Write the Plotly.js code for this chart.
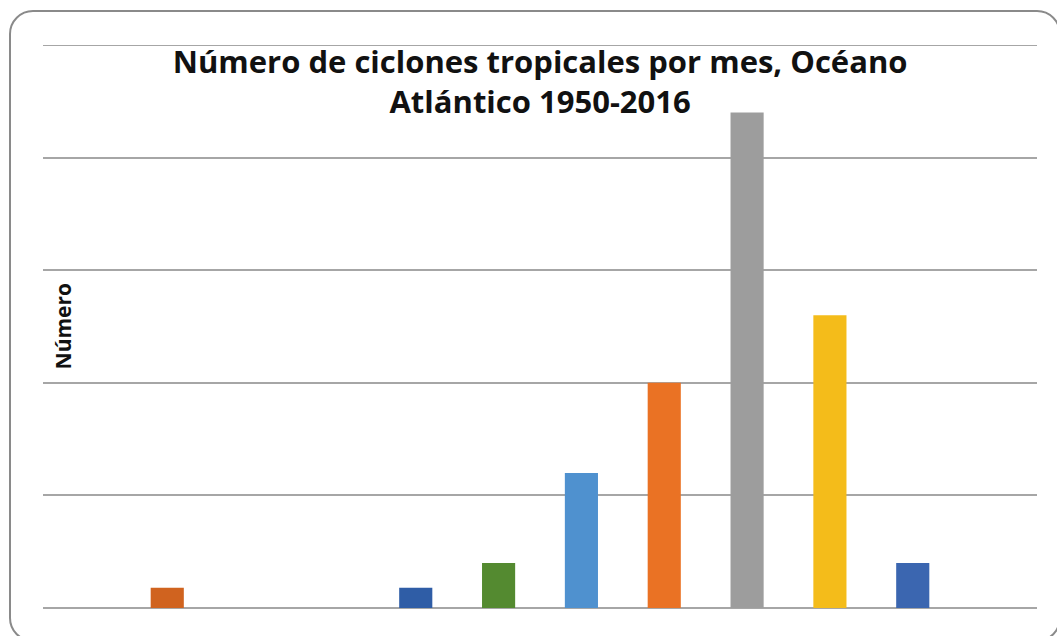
<!DOCTYPE html>
<html>
<head>
<meta charset="utf-8">
<script src="https://cdn.plot.ly/plotly-3.0.1.min.js"></script>
<style>
  html, body { margin: 0; padding: 0; background: #ffffff; }
  #frame { position: absolute; left: 9px; top: 10px; width: 1052px; height: 632px;
           border: 2px solid #8a8a8a; border-radius: 24px; box-sizing: border-box; }
  #chart { position: absolute; left: 0; top: 0; width: 1057px; height: 636px; }
</style>
</head>
<body>
<div id="frame"></div>
<div id="chart"></div>
<script>
const months = ['Ene', 'Feb', 'Mar', 'Abr', 'May', 'Jun', 'Jul', 'Ago', 'Sep', 'Oct', 'Nov', 'Dic'];
const counts = [0, 9, 0, 0, 9, 20, 60, 100, 220, 130, 20, 0];
const barColors = ['#4472C4', '#D0631F', '#A5A5A5', '#FFC000', '#2F5DA6', '#548A30',
                   '#4F91CF', '#EA7224', '#9D9D9D', '#F4BC1A', '#3B66B0', '#70AD47'];
const titleText = 'Número de ciclones tropicales por mes, Océano<br>Atlántico 1950-2016';
const yTitle = 'Número';
const yMax = 250;

const trace = {
  type: 'bar',
  x: months,
  y: counts,
  marker: { color: barColors, line: { width: 0 } },
  hoverinfo: 'x+y'
};

const layout = {
  width: 1057,
  height: 636,
  margin: { l: 43, r: 20, t: 45, b: 28 },
  paper_bgcolor: 'rgba(0,0,0,0)',
  plot_bgcolor: 'rgba(0,0,0,0)',
  bargap: 0.6,
  showlegend: false,
  title: {
    text: titleText,
    x: 0.511,
    xanchor: 'center',
    yref: 'container',
    y: 1 - 73 / 636,
    yanchor: 'middle',
    font: { family: '"Open Sans", Lato, sans-serif', size: 31, color: '#111111', weight: 'bold' }
  },
  xaxis: {
    type: 'category',
    showticklabels: false,
    showgrid: false,
    zeroline: false,
    showline: false,
    ticks: ''
  },
  yaxis: {
    range: [0, yMax],
    dtick: 50,
    showticklabels: false,
    showgrid: true,
    gridcolor: '#a6a6a6',
    gridwidth: 2,
    zeroline: true,
    zerolinecolor: '#a6a6a6',
    zerolinewidth: 2,
    showline: false,
    ticks: ''
  },
  shapes: [{
    type: 'line', xref: 'paper', yref: 'y',
    x0: 0, x1: 1, y0: yMax, y1: yMax,
    line: { color: '#a6a6a6', width: 2 },
    layer: 'below'
  }],
  annotations: [{
    text: yTitle,
    xref: 'paper', yref: 'paper',
    x: 0.02, y: 0.5,
    xanchor: 'center', yanchor: 'middle',
    textangle: -90,
    showarrow: false,
    font: { family: '"Open Sans", Lato, sans-serif', size: 21, color: '#111111', weight: 'bold' }
  }]
};

Plotly.newPlot('chart', [trace], layout, { displayModeBar: false, staticPlot: true });
</script>
</body>
</html>
